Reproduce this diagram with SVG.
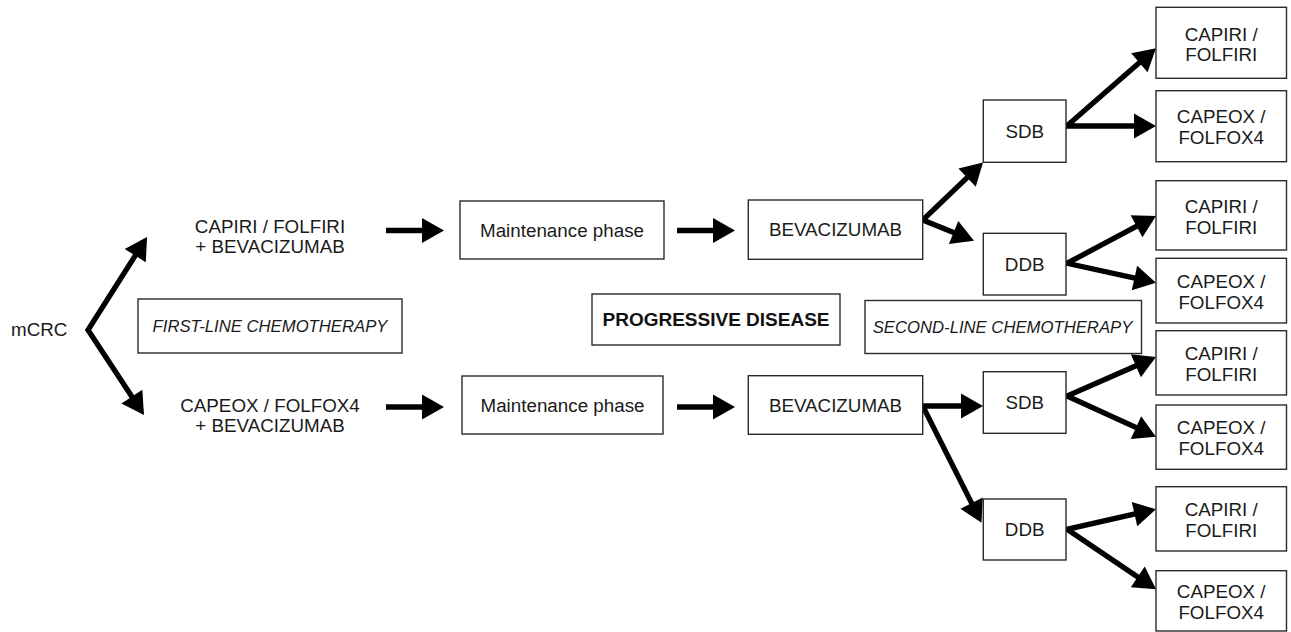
<svg xmlns="http://www.w3.org/2000/svg" width="1291" height="632" viewBox="0 0 1291 632">
<style>
  .box { fill: #ffffff; stroke: #2a2a2a; stroke-width: 1.4; }
  .t { font-family: "Liberation Sans", Arial, sans-serif; font-size: 18.8px; fill: #1a1a1a; text-anchor: middle; }
  .it { font-family: "Liberation Sans", Arial, sans-serif; font-size: 16.7px; font-style: italic; fill: #1a1a1a; text-anchor: middle; }
  .bd { font-family: "Liberation Sans", Arial, sans-serif; font-size: 19px; font-weight: bold; fill: #111111; text-anchor: middle; }
  .arr { fill: none; stroke: #000000; stroke-width: 5.3; stroke-linejoin: miter; stroke-miterlimit: 10; marker-end: url(#head); }
  .arr2 { fill: none; stroke: #000000; stroke-width: 5.3; stroke-linejoin: miter; stroke-miterlimit: 10; marker-start: url(#head); marker-end: url(#head); }
</style>
<defs>
  <marker id="head" markerUnits="userSpaceOnUse" markerWidth="22" markerHeight="25" viewBox="0 0 22 25" refX="4" refY="12.5" orient="auto-start-reverse" overflow="visible">
    <path d="M0,0 L22,12.5 L0,25 Z" fill="#000000"/>
  </marker>
</defs>
<rect x="0" y="0" width="1291" height="632" fill="#ffffff"/>

<g id="connectors">
  <path class="arr2" d="M137.4,252.2 L88,330 L134.1,400"/>
  <path class="arr" d="M386,230.5 L426,230.5"/>
  <path class="arr" d="M677,230.5 L717,230.5"/>
  <path class="arr" d="M386,407 L426,407"/>
  <path class="arr" d="M677,407 L717,407"/>
  <path class="arr2" d="M970,174.9 L922.7,220 L957.3,234"/>
  <path class="arr2" d="M1142.4,60.1 L1066.7,126 L1138,126"/>
  <path class="arr2" d="M1140.1,224.4 L1067,263.3 L1138.4,278.9"/>
  <path class="arr2" d="M965,406 L922.7,406 L973.4,506.6"/>
  <path class="arr2" d="M1139.5,364.2 L1067,396 L1139.6,429.2"/>
  <path class="arr2" d="M1138.4,513.2 L1067,529.3 L1141.1,579.2"/>
</g>

<g id="mcrc"><text class="t" x="39.2" y="335.8">mCRC</text></g>

<g id="first-line">
  <rect class="box" x="138" y="299" width="264" height="54"/>
  <text class="it" x="270" y="331.8">FIRST-LINE CHEMOTHERAPY</text>
</g>

<g id="capiri-beva">
  <text class="t" x="270" y="232.5">CAPIRI / FOLFIRI</text>
  <text class="t" x="270" y="253">+ BEVACIZUMAB</text>
</g>
<g id="capeox-beva">
  <text class="t" x="270" y="412.2">CAPEOX / FOLFOX4</text>
  <text class="t" x="270" y="432.2">+ BEVACIZUMAB</text>
</g>

<g id="maint1">
  <rect class="box" x="460" y="201" width="204" height="58"/>
  <text class="t" x="562" y="236.6">Maintenance phase</text>
</g>
<g id="maint2">
  <rect class="box" x="462" y="376" width="201" height="58"/>
  <text class="t" x="562.5" y="411.6">Maintenance phase</text>
</g>

<g id="progressive">
  <rect class="box" x="592" y="294" width="248" height="51"/>
  <text class="bd" x="716" y="326.2">PROGRESSIVE DISEASE</text>
</g>

<g id="beva1">
  <rect class="box" x="748.3" y="200" width="174.4" height="59.3"/>
  <text class="t" x="835.5" y="236.3">BEVACIZUMAB</text>
</g>
<g id="beva2">
  <rect class="box" x="748.3" y="375.7" width="174.4" height="58.6"/>
  <text class="t" x="835.5" y="411.6">BEVACIZUMAB</text>
</g>

<g id="second-line">
  <rect class="box" x="865" y="300.5" width="276.5" height="53"/>
  <text class="it" x="1002.5" y="332.8">SECOND-LINE CHEMOTHERAPY</text>
</g>

<g id="sdb1">
  <rect class="box" x="983.3" y="100" width="82.7" height="62.3"/>
  <text class="t" x="1024.7" y="137.8">SDB</text>
</g>
<g id="ddb1">
  <rect class="box" x="983.3" y="233.3" width="82.7" height="61.7"/>
  <text class="t" x="1024.7" y="270.8">DDB</text>
</g>
<g id="sdb2">
  <rect class="box" x="983.3" y="371.7" width="82.7" height="61.6"/>
  <text class="t" x="1024.7" y="409.1">SDB</text>
</g>
<g id="ddb2">
  <rect class="box" x="983.3" y="499" width="82.7" height="61"/>
  <text class="t" x="1024.7" y="536.1">DDB</text>
</g>

<g id="r1">
  <rect class="box" x="1156" y="7.3" width="130.5" height="71"/>
  <text class="t" x="1221.2" y="40.8">CAPIRI /</text>
  <text class="t" x="1221.2" y="61.3">FOLFIRI</text>
</g>
<g id="r2">
  <rect class="box" x="1156" y="90.7" width="130.5" height="71"/>
  <text class="t" x="1221.2" y="122.5">CAPEOX /</text>
  <text class="t" x="1221.2" y="144">FOLFOX4</text>
</g>
<g id="r3">
  <rect class="box" x="1156" y="180.7" width="130.5" height="69.3"/>
  <text class="t" x="1221.2" y="212.8">CAPIRI /</text>
  <text class="t" x="1221.2" y="233.8">FOLFIRI</text>
</g>
<g id="r4">
  <rect class="box" x="1156" y="258.3" width="130.5" height="64.7"/>
  <text class="t" x="1221.2" y="287.5">CAPEOX /</text>
  <text class="t" x="1221.2" y="308.5">FOLFOX4</text>
</g>
<g id="r5">
  <rect class="box" x="1156" y="330.7" width="130.5" height="64.3"/>
  <text class="t" x="1221.2" y="359.6">CAPIRI /</text>
  <text class="t" x="1221.2" y="380.6">FOLFIRI</text>
</g>
<g id="r6">
  <rect class="box" x="1156" y="405" width="130.5" height="64.3"/>
  <text class="t" x="1221.2" y="433.9">CAPEOX /</text>
  <text class="t" x="1221.2" y="454.9">FOLFOX4</text>
</g>
<g id="r7">
  <rect class="box" x="1156" y="486.7" width="130.5" height="64.3"/>
  <text class="t" x="1221.2" y="515.6">CAPIRI /</text>
  <text class="t" x="1221.2" y="536.6">FOLFIRI</text>
</g>
<g id="r8">
  <rect class="box" x="1156" y="570.7" width="130.5" height="60.3"/>
  <text class="t" x="1221.2" y="597.6">CAPEOX /</text>
  <text class="t" x="1221.2" y="618.6">FOLFOX4</text>
</g>
</svg>
